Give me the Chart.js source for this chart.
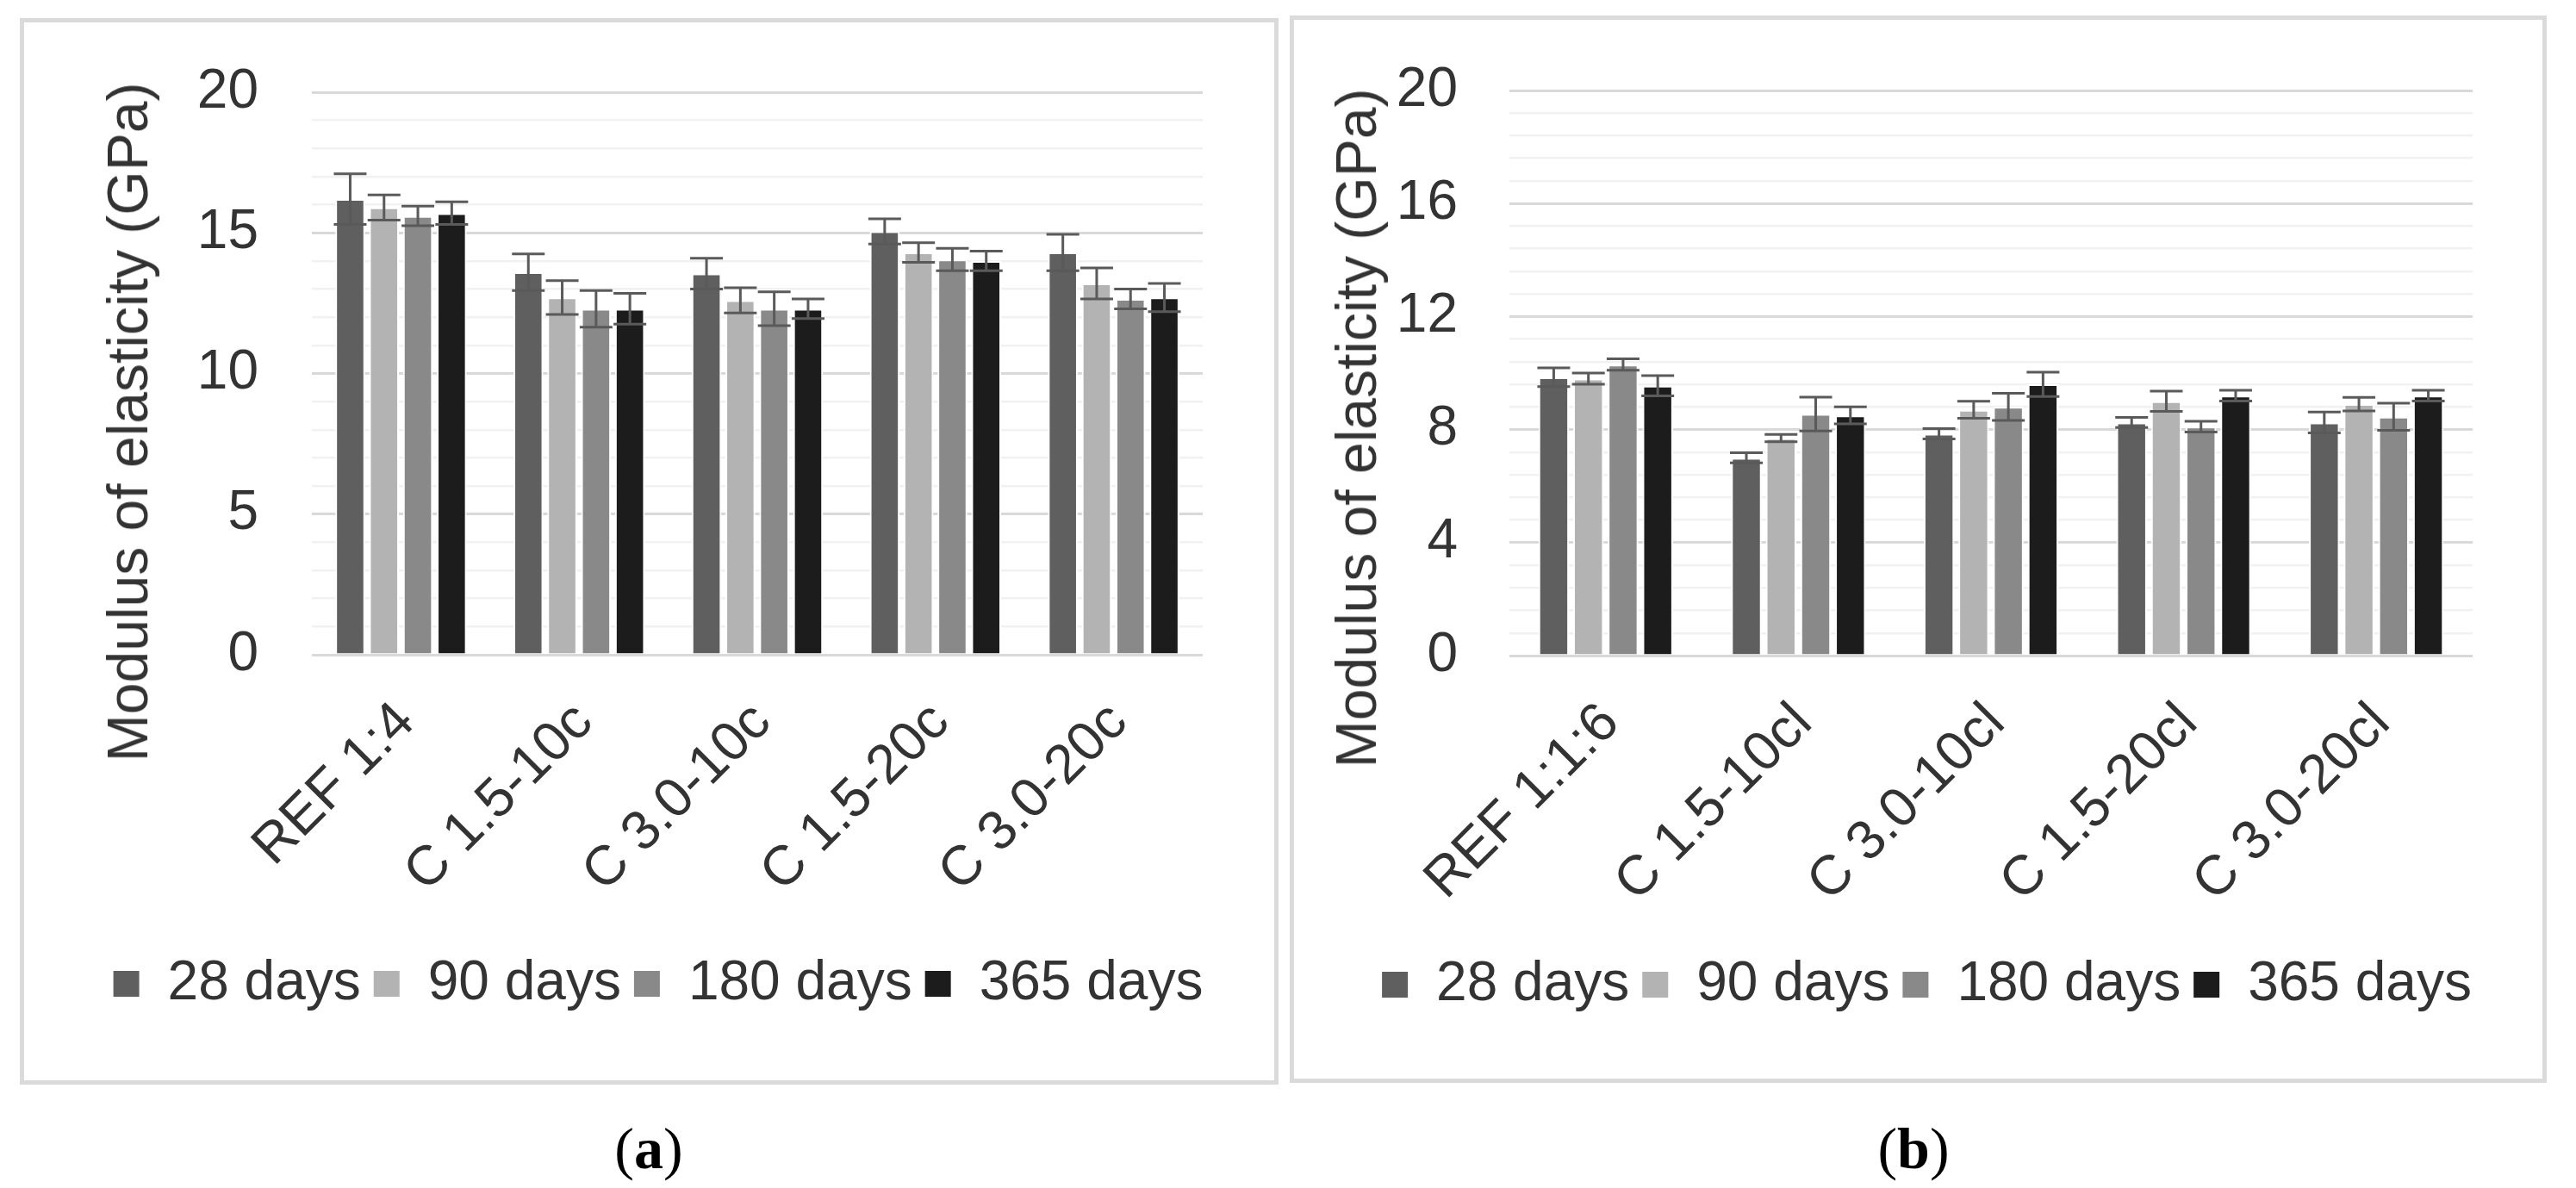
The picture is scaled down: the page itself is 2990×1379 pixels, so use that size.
<!DOCTYPE html>
<html>
<head>
<meta charset="utf-8">
<script src="https://cdn.jsdelivr.net/npm/chart.js@4.4.1/dist/chart.umd.min.js"></script>
<style>
  body { margin: 0; background: #fff; width: 2990px; height: 1379px; position: relative; overflow: hidden; }
  .panel { position: absolute; box-sizing: border-box; border: 5px solid #dadada; background: #fff; }
  .panel canvas { position: absolute; left: 0; top: 0; }
  .ytitle { position: absolute; white-space: nowrap; font-family: "Liberation Sans", Arial, sans-serif; font-size: 66px; color: #333;
            transform: translate(-50%, -50%) rotate(-90deg); }
  .cap { position: absolute; font-family: "Liberation Serif", "Times New Roman", serif; font-size: 68px; color: #000; transform: translate(-50%, -50%); }
</style>
</head>
<body>
<div class="panel" style="left:23px; top:21px; width:1461px; height:1238px;">
  <canvas id="chartA" width="1451" height="1228"></canvas>
</div>
<div class="panel" style="left:1497px; top:18px; width:1459px; height:1239px;">
  <canvas id="chartB" width="1449" height="1229"></canvas>
</div>
<div class="ytitle" style="left:148px; top:490px;">Modulus of elasticity (GPa)</div>
<div class="ytitle" style="left:1574px; top:497px;">Modulus of elasticity (GPa)</div>
<div class="cap" style="left:753px; top:1333px;">(<b>a</b>)</div>
<div class="cap" style="left:2221px; top:1333px;">(<b>b</b>)</div>

<script>
// series names and colours
const seriesNames = ['28 days', '90 days', '180 days', '365 days'];
const seriesColors = ['#5f5f5f', '#b3b3b3', '#898989', '#1c1c1c'];

// panel (a) cement mortars
const catsA = ['REF 1:4', 'C 1.5-10c', 'C 3.0-10c', 'C 1.5-20c', 'C 3.0-20c'];
const a28 = [16.2, 13.6, 13.55, 15.05, 14.3];
const a90 = [15.9, 12.7, 12.6, 14.3, 13.2];
const a180 = [15.6, 12.3, 12.3, 14.05, 12.65];
const a365 = [15.7, 12.3, 12.3, 14.0, 12.7];
const a28err = [0.9, 0.65, 0.55, 0.45, 0.65];
const a90err = [0.45, 0.6, 0.45, 0.35, 0.55];
const a180err = [0.35, 0.65, 0.6, 0.4, 0.35];
const a365err = [0.4, 0.55, 0.35, 0.35, 0.5];
const ticksA = [0, 5, 10, 15, 20];

// panel (b) lime-cement mortars
const catsB = ['REF 1:1:6', 'C 1.5-10cl', 'C 3.0-10cl', 'C 1.5-20cl', 'C 3.0-20cl'];
const b28 = [9.85, 7.0, 7.85, 8.25, 8.25];
const b90 = [9.8, 7.7, 8.7, 9.0, 8.9];
const b180 = [10.3, 8.55, 8.8, 8.1, 8.45];
const b365 = [9.55, 8.5, 9.6, 9.2, 9.2];
const b28err = [0.33, 0.18, 0.18, 0.18, 0.37];
const b90err = [0.2, 0.13, 0.3, 0.36, 0.24];
const b180err = [0.2, 0.6, 0.48, 0.19, 0.48];
const b365err = [0.36, 0.3, 0.43, 0.19, 0.19];
const ticksB = [0, 4, 8, 12, 16, 20];

const FONT = '"Liberation Sans", Arial, sans-serif';
const TEXT = '#333333';

// error bars drawn over every bar
const errorBars = {
    id: 'errorBars',
    afterDatasetsDraw(chart, args, opts) {
        const ctx = chart.ctx;
        const y = chart.scales.y;
        ctx.save();
        ctx.strokeStyle = opts.color;
        ctx.lineWidth = opts.width;
        chart.data.datasets.forEach((ds, i) => {
            chart.getDatasetMeta(i).data.forEach((bar, j) => {
                const top = y.getPixelForValue(ds.data[j] + ds.errors[j]);
                const bot = y.getPixelForValue(ds.data[j] - ds.errors[j]);
                ctx.beginPath();
                ctx.moveTo(bar.x, top);
                ctx.lineTo(bar.x, bot);
                ctx.moveTo(bar.x - opts.cap, top);
                ctx.lineTo(bar.x + opts.cap, top);
                ctx.moveTo(bar.x - opts.cap, bot);
                ctx.lineTo(bar.x + opts.cap, bot);
                ctx.stroke();
            });
        });
        ctx.restore();
    }
};

function isMajor(v, list) {
    return list.some(t => Math.abs(t - v) < 1e-6);
}

function makeChart(id, cats, values, errs, tickList, step, lay) {
    const datasets = values.map((vals, i) => ({
        label: seriesNames[i],
        data: vals,
        errors: errs[i],
        backgroundColor: seriesColors[i],
        borderColor: '#ffffff',
        borderWidth: 2,
        categoryPercentage: lay.catPct,
        barPercentage: 0.88
    }));

    new Chart(document.getElementById(id), {
        type: 'bar',
        data: { labels: cats, datasets: datasets },
        plugins: [errorBars],
        options: {
            responsive: false,
            animation: false,
            devicePixelRatio: 1,
            layout: { padding: { left: lay.left, right: 0, top: lay.top, bottom: lay.bottom } },
            plugins: {
                tooltip: { enabled: false },
                errorBars: { color: '#5a5a5a', width: 3, cap: 19 },
                legend: {
                    position: 'bottom',
                    labels: {
                        boxWidth: 32,
                        boxHeight: 32,
                        padding: 14,
                        color: TEXT,
                        font: { family: FONT, size: 64 }
                    }
                }
            },
            scales: {
                x: {
                    grid: { display: false },
                    border: { display: false },
                    ticks: {
                        color: TEXT,
                        font: { family: FONT, size: 64 },
                        minRotation: 45,
                        maxRotation: 45,
                        autoSkip: false,
                        padding: 33,
                        labelOffset: 6
                    },
                    afterFit: s => { s.height = lay.xHeight; }
                },
                y: {
                    min: 0,
                    max: 20,
                    border: { display: false },
                    grid: {
                        drawTicks: false,
                        color: c => isMajor(c.tick.value, tickList) ? '#d9d9d9' : '#f1f1f1',
                        lineWidth: c => isMajor(c.tick.value, tickList) ? 3 : 2.5
                    },
                    ticks: {
                        stepSize: step,
                        autoSkip: false,
                        color: TEXT,
                        padding: lay.yPad,
                        font: { family: FONT, size: 64 },
                        callback: v => isMajor(v, tickList) ? String(Math.round(v)) : ''
                    },
                    afterFit: s => { s.width = lay.yWidth; s.paddingTop = 0; s.paddingBottom = 0; }
                },
                // empty right axis, only keeps the plot clear of the right edge
                side: {
                    type: 'linear',
                    position: 'right',
                    grid: { display: false },
                    border: { display: false },
                    ticks: { display: false },
                    afterFit: s => { s.width = lay.rightGap; s.paddingTop = 0; s.paddingBottom = 0; }
                }
            }
        }
    });
}

makeChart('chartA', catsA, [a28, a90, a180, a365], [a28err, a90err, a180err, a365err], ticksA, 1,
    { catPct: 0.76, left: 20, yWidth: 314, rightGap: 83, top: 81, bottom: 70, xHeight: 336, yPad: 62 });

makeChart('chartB', catsB, [b28, b90, b180, b365], [b28err, b90err, b180err, b365err], ticksB, 0.8,
    { catPct: 0.72, left: 19, yWidth: 231, rightGap: 81, top: 82, bottom: 67, xHeight: 336, yPad: 60 });
</script>
</body>
</html>
